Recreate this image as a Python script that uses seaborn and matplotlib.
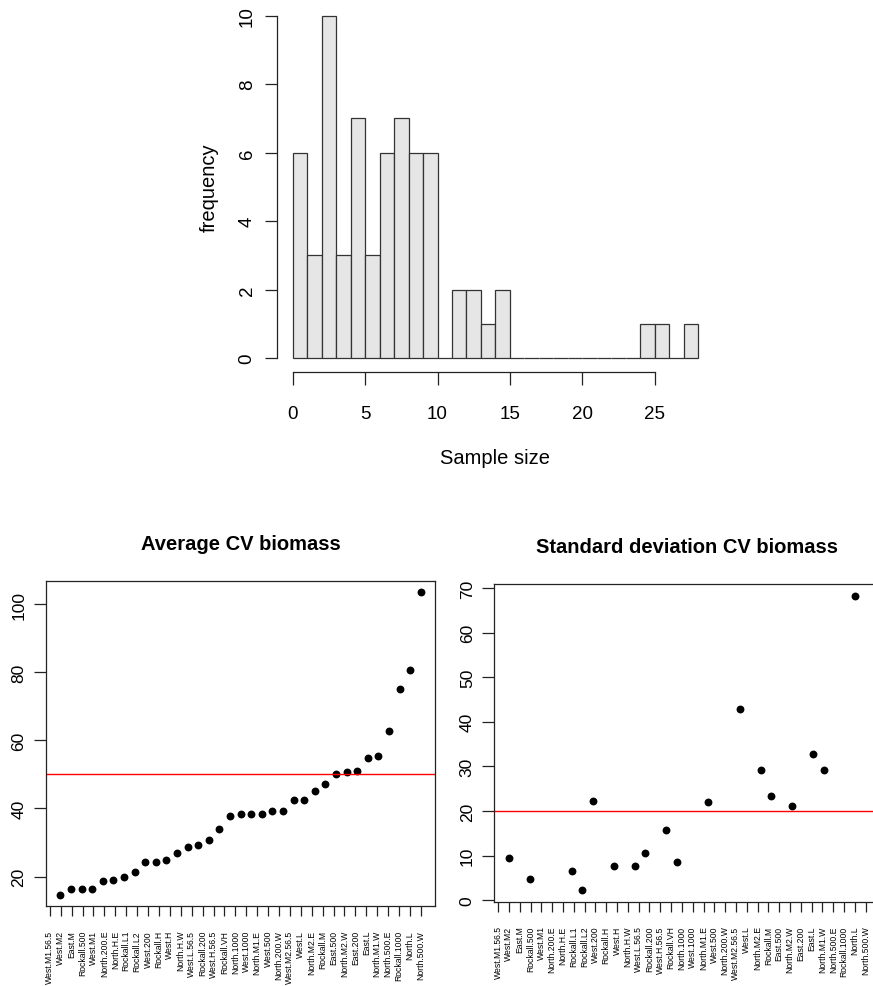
import numpy as np
import pandas as pd
import matplotlib
matplotlib.use("Agg")
import matplotlib.pyplot as plt
import seaborn as sns

# Sample-size histogram: counts per unit-width bin from 0 to 28
bin_edges = list(range(0, 29))
bin_counts = [6, 3, 10, 3, 7, 3, 6, 7, 6, 6, 0, 2, 2, 1, 2,
              0, 0, 0, 0, 0, 0, 0, 0, 0, 1, 1, 0, 1]

# Strata ordered by increasing average CV of biomass
strata = ["West.M1.56.5", "West.M2", "East.M", "Rockall.500", "West.M1",
          "North.200.E", "North.H.E", "Rockall.L1", "Rockall.L2", "West.200",
          "Rockall.H", "West.H", "North.H.W", "West.L.56.5", "Rockall.200",
          "West.H.56.5", "Rockall.VH", "North.1000", "West.1000", "North.M1.E",
          "West.500", "North.200.W", "West.M2.56.5", "West.L", "North.M2.E",
          "Rockall.M", "East.500", "North.M2.W", "East.200", "East.L",
          "North.M1.W", "North.500.E", "Rockall.1000", "North.L", "North.500.W"]

cv_mean = [14.6, 16.2, 16.4, 16.4, 18.6, 19.0, 19.9, 21.3, 24.4, 24.4,
           24.9, 26.8, 28.6, 29.2, 30.6, 34.0, 37.7, 38.5, 38.5, 38.5,
           39.2, 39.4, 42.5, 42.5, 45.1, 47.3, 50.0, 50.6, 51.0, 54.7,
           55.5, 62.9, 75.2, 80.6, 103.5]

nan = np.nan
cv_sd = [9.4, nan, 4.7, nan, nan, nan, 6.5, 2.4, 22.2, nan,
         7.7, nan, 7.7, 10.7, nan, 15.8, 8.5, nan, nan, 22.0,
         nan, nan, 42.8, nan, 29.1, 23.3, nan, 21.2, nan, 32.9,
         29.3, nan, nan, 68.2, nan]

mean_threshold = 50
sd_threshold = 20

sns.set_style("ticks")
plt.rcParams["font.family"] = ["Liberation Sans", "DejaVu Sans"]
plt.rcParams["axes.linewidth"] = 0.9
plt.rcParams["axes.edgecolor"] = "#222222"
for key in ["text.color", "axes.labelcolor", "xtick.color", "ytick.color"]:
    plt.rcParams[key] = "black"

W, H = 873, 987
fig = plt.figure(figsize=(W / 100, H / 100), dpi=100)


def px_axes(x0, y0, x1, y1):
    """Axes placed by pixel box (top-left origin)."""
    return fig.add_axes([x0 / W, 1 - y1 / H, (x1 - x0) / W, (y1 - y0) / H])


# ---- Histogram of sample sizes ----
ax_h = px_axes(276.5, 3.0, 714.4, 372.7)
hist_df = pd.DataFrame({"size": np.array(bin_edges[:-1]) + 0.5, "n": bin_counts})
sns.histplot(data=hist_df, x="size", weights="n", bins=bin_edges,
             color="#E6E6E6", edgecolor="#333333", linewidth=0.9, alpha=1,
             ax=ax_h)
ax_h.set_xlim(-1.12, 29.12)
ax_h.set_ylim(-0.4, 10.4)
ax_h.set_xticks([0, 5, 10, 15, 20, 25])
ax_h.set_yticks([0, 2, 4, 6, 8, 10])
for s in ["top", "right"]:
    ax_h.spines[s].set_visible(False)
ax_h.spines["left"].set_bounds(0, 10)
ax_h.spines["bottom"].set_bounds(0, 25)
ax_h.tick_params(axis="both", length=9, width=0.9, color="#222222",
                 labelsize=13.5)
ax_h.tick_params(axis="x", pad=15)
ax_h.tick_params(axis="y", pad=6)
for lab in ax_h.get_yticklabels():
    lab.set_rotation(90)
    lab.set_va("center")
ax_h.set_xlabel("Sample size", fontsize=14.5, labelpad=19)
ax_h.set_ylabel("frequency", fontsize=14.5, labelpad=14)

xpos = np.arange(1, len(strata) + 1)
tick_pos = np.linspace(0, 35, len(strata))


def dot_panel(ax, values, threshold, title, yticks, ylim):
    sns.scatterplot(x=xpos, y=values, color="black", s=32, linewidth=0,
                    ax=ax, legend=False)
    ax.axhline(threshold, color="red", lw=1.0)
    ax.set_xlim(-0.36, 36.36)
    ax.set_ylim(*ylim)
    ax.set_xticks(tick_pos)
    ax.set_xticklabels(strata, rotation=90, fontsize=6.2, va="top", ha="center")
    ax.set_yticks(yticks)
    ax.tick_params(axis="x", length=7, width=0.9, color="#222222", pad=10)
    ax.tick_params(axis="y", length=9, width=0.9, color="#222222",
                   labelsize=12.5, pad=5)
    for lab in ax.get_yticklabels():
        lab.set_rotation(90)
        lab.set_va("center")
    ax.set_xlabel("")
    ax.set_ylabel("")
    ax.set_title(title, fontsize=14.5, fontweight="bold", pad=23)
    for s in ax.spines.values():
        s.set_visible(True)


ax_m = px_axes(46.0, 581.7, 435.3, 907.3)
dot_panel(ax_m, cv_mean, mean_threshold, "Average CV biomass",
          [20, 40, 60, 80, 100], (11.26, 106.94))

ax_s = px_axes(494.3, 584.8, 880.0, 902.8)
dot_panel(ax_s, cv_sd, sd_threshold, "Standard deviation CV biomass",
          [0, 10, 20, 30, 40, 50, 60, 70], (-0.34, 70.94))

fig.savefig("out.png", dpi=100)
